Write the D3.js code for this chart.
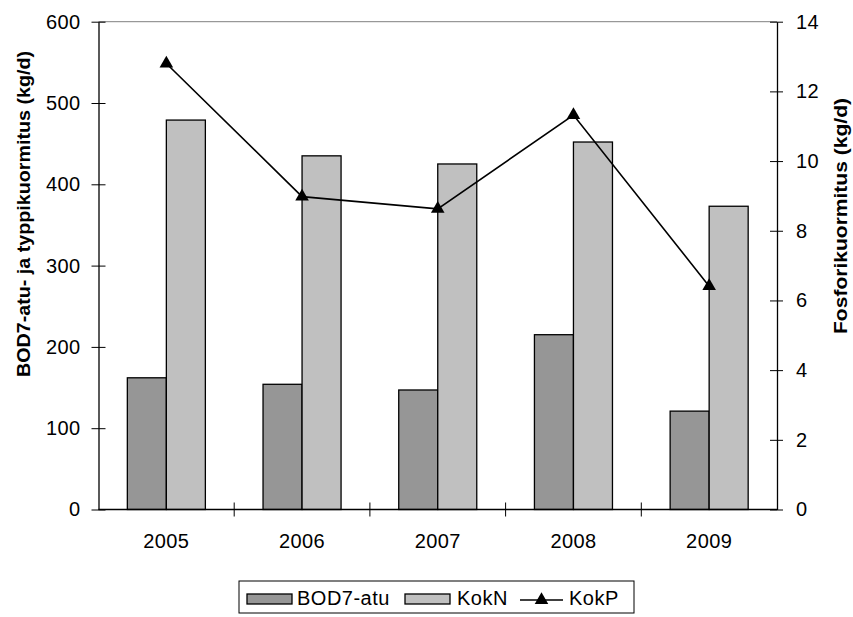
<!DOCTYPE html>
<html><head><meta charset="utf-8">
<script src="https://cdn.jsdelivr.net/npm/d3@7"></script>
<style>
body{margin:0;background:#fff;}
text{font-family:"Liberation Sans",Arial,sans-serif;fill:#000;}
</style></head>
<body><svg id="c" width="853" height="617"></svg>
<script>
const years = ["2005","2006","2007","2008","2009"];
const bod7 = [162, 154, 147, 215, 121];
const kokN = [479, 435, 425, 452, 373];
const kokP = [12.8, 8.98, 8.63, 11.32, 6.41];
const leftTicks = [0,100,200,300,400,500,600];
const rightTicks = [0,2,4,6,8,10,12,14];

const svg = d3.select("#c");
const L=98.5, R=777, T=21.7, B=509.5;
const x = d3.scaleBand().domain(years).range([L,R]).paddingInner(0.425).paddingOuter(0.2125);
const xs = d3.scaleBand().domain(["b","n"]).range([0,x.bandwidth()]);
const yL = d3.scaleLinear().domain([0,600]).range([B,T]);
const yR = d3.scaleLinear().domain([0,14]).range([B,T]);

svg.append("line").attr("x1",L).attr("x2",R).attr("y1",T).attr("y2",T).attr("stroke","#808080").attr("stroke-width",1);

const g = svg.append("g");
years.forEach((yr,i)=>{
  g.append("rect").attr("x",x(yr)+xs("b")).attr("y",yL(bod7[i])).attr("width",xs.bandwidth()).attr("height",B-yL(bod7[i]))
   .attr("fill","#969696").attr("stroke","#000").attr("stroke-width",1.3);
  g.append("rect").attr("x",x(yr)+xs("n")).attr("y",yL(kokN[i])).attr("width",xs.bandwidth()).attr("height",B-yL(kokN[i]))
   .attr("fill","#c0c0c0").attr("stroke","#000").attr("stroke-width",1.3);
});

const axL = d3.axisLeft(yL).tickValues(leftTicks).tickSizeInner(7).tickSizeOuter(0).tickPadding(11);
const gl = svg.append("g").attr("transform",`translate(${L},0)`).call(axL);
gl.selectAll(".tick line").attr("x2",7).attr("x1",-7);
const axR = d3.axisRight(yR).tickValues(rightTicks).tickSizeInner(6).tickSizeOuter(0).tickPadding(13);
const gr = svg.append("g").attr("transform",`translate(${R},0)`).call(axR);
gr.selectAll(".tick line").attr("x1",-7).attr("x2",6);
const axB = d3.axisBottom(x).tickSize(0).tickPadding(24);
const gb = svg.append("g").attr("transform",`translate(0,${B})`).call(axB);
const bounds = years.map(yr=>x(yr)-x.step()*x.paddingInner()/2).slice(1);
bounds.forEach(bx=>{
  gb.append("line").attr("x1",bx).attr("x2",bx).attr("y1",-7).attr("y2",7).attr("stroke","#000");
});
[gl,gr,gb].forEach(a=>{
  a.select(".domain").attr("stroke","#000").attr("stroke-width",1.3);
  a.selectAll(".tick line").attr("stroke","#000");
  a.selectAll("text").attr("font-size",20).attr("letter-spacing","0.4px").attr("font-family","Liberation Sans, Arial, sans-serif");
});
gb.select(".domain").attr("d",`M${L},0H${R}`);

const cx = yr=>x(yr)+x.bandwidth()/2;
const line = d3.line().x((d,i)=>cx(years[i])).y(d=>yR(d));
svg.append("path").datum(kokP).attr("d",line).attr("fill","none").attr("stroke","#000").attr("stroke-width",1.6);
const tri = d3.symbol().type(d3.symbolTriangle).size(80);
svg.selectAll(".m").data(kokP).enter().append("path")
  .attr("transform",(d,i)=>`translate(${cx(years[i])},${yR(d)})`).attr("d",tri).attr("fill","#000");

svg.append("text").attr("transform",`translate(30,214) rotate(-90)`).attr("text-anchor","middle")
  .attr("font-size",19).attr("font-weight","bold").attr("textLength",326).attr("lengthAdjust","spacingAndGlyphs")
  .text("BOD7-atu- ja typpikuormitus (kg/d)");
svg.append("text").attr("transform",`translate(847,216) rotate(-90)`).attr("text-anchor","middle")
  .attr("font-size",19).attr("font-weight","bold").attr("textLength",236).attr("lengthAdjust","spacingAndGlyphs")
  .text("Fosforikuormitus (kg/d)");

const lg = svg.append("g");
lg.append("rect").attr("x",239).attr("y",581).attr("width",395).attr("height",32).attr("fill","#fff").attr("stroke","#000").attr("stroke-width",1);
const ly = 598;
lg.append("rect").attr("x",247).attr("y",ly-4).attr("width",45).attr("height",10).attr("fill","#969696").attr("stroke","#000").attr("stroke-width",1.3);
lg.append("text").attr("x",297).attr("y",ly+7).attr("font-size",20).attr("letter-spacing","0.5px").text("BOD7-atu");
lg.append("rect").attr("x",405).attr("y",ly-4).attr("width",45).attr("height",10).attr("fill","#c0c0c0").attr("stroke","#000").attr("stroke-width",1.3);
lg.append("text").attr("x",457).attr("y",ly+7).attr("font-size",20).attr("letter-spacing","0.5px").text("KokN");
lg.append("line").attr("x1",520).attr("x2",563).attr("y1",ly+2).attr("y2",ly+2).attr("stroke","#000").attr("stroke-width",1.6);
lg.append("path").attr("transform",`translate(541.5,${ly+2})`).attr("d",tri).attr("fill","#000");
lg.append("text").attr("x",569).attr("y",ly+7).attr("font-size",20).attr("letter-spacing","0.5px").text("KokP");
</script></body></html>
